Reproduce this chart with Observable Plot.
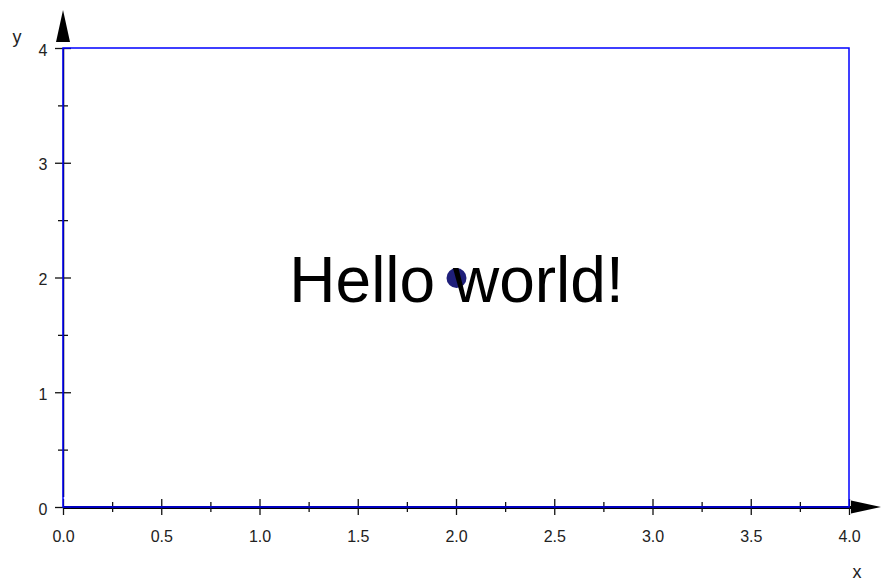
<!DOCTYPE html>
<html>
<head>
<meta charset="utf-8">
<script src="https://cdn.jsdelivr.net/npm/d3@7"></script>
<script src="https://cdn.jsdelivr.net/npm/@observablehq/plot@0.6"></script>
<style>
  html, body { margin: 0; padding: 0; background: #fff; }
  #chart svg { display: block; }
</style>
</head>
<body>
<div id="chart"></div>
<script>
// Data
const rectangle = [{x1: 0, x2: 4, y1: 0, y2: 4}];
const points = [{x: 2, y: 2}];
const labels = [{x: 2, y: 2, text: "Hello world!"}];
const xMajorTicks = [0, 0.5, 1, 1.5, 2, 2.5, 3, 3.5, 4];
const xMinorTicks = [0.25, 0.75, 1.25, 1.75, 2.25, 2.75, 3.25, 3.75];
const yMajorTicks = [0, 1, 2, 3, 4];
const yMinorTicks = [0.5, 1.5, 2.5, 3.5];
const xDomain = [0, 4];
const yDomain = [0, 4];

const W = 886, H = 582;
const font = "'Liberation Sans', Arial, sans-serif";

const plot = Plot.plot({
  width: W,
  height: H,
  marginLeft: 63,
  marginRight: 37,
  marginTop: 48,
  marginBottom: 75,
  style: {fontFamily: font, fontSize: "16px", color: "#222", background: "#fff"},
  x: {domain: xDomain, axis: null},
  y: {domain: yDomain, axis: null},
  marks: [
    // axis lines (black), extended beyond the domain toward the arrowheads
    Plot.ruleY([0], {x1: 0, x2: 4, stroke: "#000", strokeWidth: 3, insetRight: -10}),
    Plot.ruleX([0], {y1: 0, y2: 4, stroke: "#000", strokeWidth: 1.5, insetTop: -10}),
    // major ticks crossing the axes
    Plot.ruleX(xMajorTicks, {x: d => d, y1: 0, y2: 0, insetTop: -8, insetBottom: -8, stroke: "#111", strokeWidth: 1.3}),
    Plot.ruleX(xMinorTicks, {x: d => d, y1: 0, y2: 0, insetTop: -5, insetBottom: -5, stroke: "#111", strokeWidth: 1.3}),
    Plot.ruleY(yMajorTicks, {y: d => d, x1: 0, x2: 0, insetLeft: -8, insetRight: -8, stroke: "#111", strokeWidth: 1.3}),
    Plot.ruleY(yMinorTicks, {y: d => d, x1: 0, x2: 0, insetLeft: -5, insetRight: -5, stroke: "#111", strokeWidth: 1.3}),
    // blue rectangle
    Plot.rect(rectangle, {x1: "x1", x2: "x2", y1: "y1", y2: "y2", fill: "none", stroke: "#0000ff", strokeWidth: 1.5}),
    // tick labels
    Plot.text(xMajorTicks, {x: d => d, y: 0, text: d => d.toFixed(1), dy: 29, fill: "#222", fontSize: 16}),
    Plot.text(yMajorTicks, {x: 0, y: d => d, text: d => String(d), dx: -16, textAnchor: "end", dy: 2, fill: "#222", fontSize: 16}),
    // point and text
    Plot.dot(points, {x: "x", y: "y", r: 10, fill: "#1f1f7a", stroke: "none"}),
    Plot.text(labels, {x: "x", y: "y", text: "text", fontSize: 64, fill: "#000", dy: 4, fontFamily: font})
  ]
});

document.getElementById("chart").appendChild(plot);

// Arrowheads and axis titles positioned with the plot's scales
const sx = plot.scale("x"), sy = plot.scale("y");
const x0 = sx.apply(0), x4 = sx.apply(4), y0 = sy.apply(0), y4 = sy.apply(4);
const svg = d3.select(plot);
svg.append("path")
  .attr("d", `M${x4 + 2},${y0 - 6.5}L${x4 + 32},${y0}L${x4 + 2},${y0 + 6.5}Z`)
  .attr("fill", "#000");
svg.append("path")
  .attr("d", `M${x0 - 7},${y4 - 6}L${x0},${y4 - 38}L${x0 + 7},${y4 - 6}Z`)
  .attr("fill", "#000");
svg.append("text")
  .attr("x", x0 - 46).attr("y", y4 - 5)
  .attr("font-size", 18).attr("fill", "#222").attr("font-family", font)
  .text("y");
svg.append("text")
  .attr("x", x4 + 8).attr("y", y0 + 71)
  .attr("font-size", 18).attr("fill", "#222").attr("font-family", font)
  .text("x");
</script>
</body>
</html>
